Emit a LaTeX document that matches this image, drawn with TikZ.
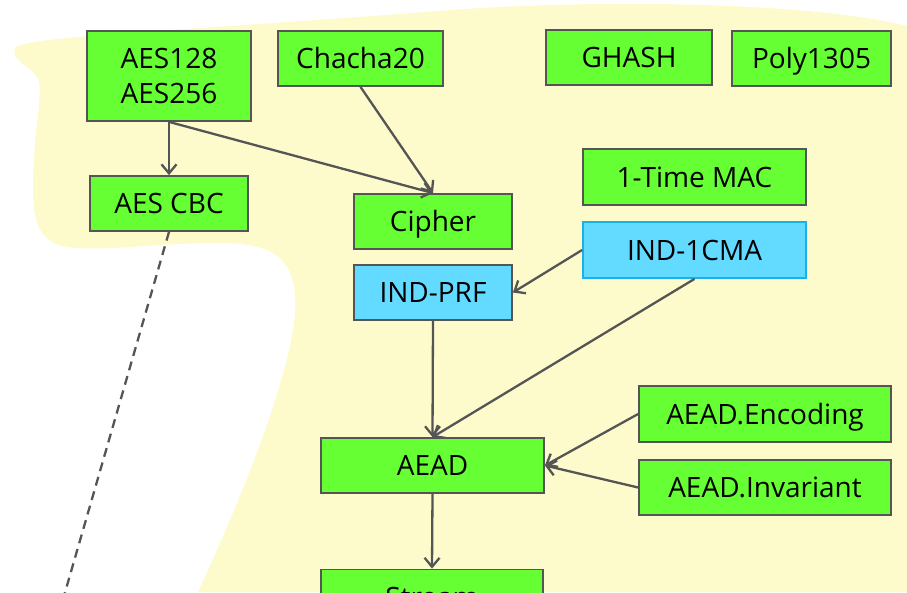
\documentclass[tikz,border=0pt]{standalone}
\usepackage{fontspec}
\setmainfont{Open Sans}
\usetikzlibrary{arrows.meta}
\definecolor{blobyellow}{RGB}{253,251,204}
\definecolor{boxgreen}{RGB}{102,255,51}
\definecolor{boxblue}{RGB}{99,218,255}
\definecolor{edgegray}{RGB}{85,85,85}
\definecolor{blueedge}{RGB}{26,176,232}
\tikzset{
  tallbox/.style={draw=edgegray, line width=1.8pt, fill=boxgreen, inner sep=0pt,
    text=black, font=\fontsize{28}{35}\selectfont, align=center},
  box/.style={tallbox, text height=23pt, text depth=3pt},
  bluebox/.style={box, fill=boxblue},
  link/.style={draw=edgegray, line width=2.3pt,
    -{Straight Barb[length=9pt,width=15pt,line width=2.3pt]}},
  weaklink/.style={draw=edgegray, line width=2.3pt, dash pattern=on 9pt off 6pt}
}
\begin{document}
\begin{tikzpicture}[x=1pt,y=-1pt]
\useasboundingbox (0,0) rectangle (907,592);
\clip (0,0) rectangle (907,592);
% soft background region
\fill[blobyellow] (15,48)
  .. controls (22,36) and (200,30) .. (450,10)
  .. controls (620,-2) and (820,4) .. (907,26)
  -- (907,592) -- (198,592)
  .. controls (250,480) and (300,350) .. (295,295)
  .. controls (292,258) and (272,243) .. (220,243)
  .. controls (150,243) and (95,253) .. (62,246)
  .. controls (38,240) and (33,218) .. (33,190)
  .. controls (33,130) and (44,92) .. (38,78)
  .. controls (30,66) and (10,60) .. (15,48) -- cycle;

% primitives
\node[tallbox, minimum width=164pt, minimum height=90pt] (aes) at (169,76) {AES128\\AES256};
\node[box, minimum width=165pt, minimum height=55pt] (chacha) at (360.5,58.5) {Chacha20};
\node[box, minimum width=166pt, minimum height=55pt] (ghash) at (629,57.5) {GHASH};
\node[box, minimum width=159pt, minimum height=55pt] (poly) at (811.5,58.5) {Poly1305};
\node[box, minimum width=158pt, minimum height=55pt] (aescbc) at (169,203.5) {AES CBC};
\node[box, minimum width=158pt, minimum height=55pt] (cipher) at (433,221.5) {Cipher};
\node[box, minimum width=223pt, minimum height=56pt] (mac) at (694.5,177) {1-Time MAC};
\node[bluebox, draw=blueedge, minimum width=223pt, minimum height=56pt] (cma) at (694.5,250) {IND-1CMA};
\node[bluebox, minimum width=158pt, minimum height=55pt] (prf) at (433,292.5) {IND-PRF};
\node[box, minimum width=223pt, minimum height=55pt] (aead) at (432.5,465.5) {AEAD};
\node[box, minimum width=252pt, minimum height=56pt] (enc) at (765,414) {AEAD.Encoding};
\node[box, minimum width=252pt, minimum height=55pt] (inv) at (765,487.5) {AEAD.Invariant};
\node[box, minimum width=222pt, minimum height=55pt] (stream) at (432,597) {Stream};
\coordinate (cbcend) at (34,700);

% dependencies
\draw[link] (aes.south) -- (aescbc.north);
\draw[link] (aes.south) -- (cipher.north);
\draw[link] (chacha.south) -- (cipher.north);
\draw[link] (cma.west) -- (prf.east);
\draw[link] (cma.south) -- (aead.north);
\draw[link] (prf.south) -- (aead.north);
\draw[link] (enc.west) -- (aead.east);
\draw[link] (inv.west) -- (aead.east);
\draw[link] (aead.south) -- (stream.north);
\draw[weaklink] (aescbc.south) -- (cbcend);
\end{tikzpicture}
\end{document}
